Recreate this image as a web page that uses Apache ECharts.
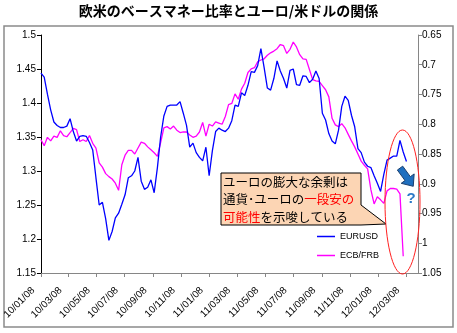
<!DOCTYPE html>
<html>
<head>
<meta charset="utf-8">
<script src="https://cdn.jsdelivr.net/npm/echarts@6/dist/echarts.min.js"></script>
<style>
html,body{margin:0;padding:0;background:#fff;}
#chart{width:457px;height:333px;}
</style>
</head>
<body>
<div id="chart"></div>
<script>
// ---- data ----
const titleText = '欧米のベースマネー比率とユーロ/米ドルの関係';
const startDate = [2010, 1, 8];            // first weekly observation
const endAxisDate = [2012, 4, 3];          // axis end
const tickLabels = ['10/01/08','10/03/08','10/05/08','10/07/08','10/09/08','10/11/08','11/01/08','11/03/08','11/05/08','11/07/08','11/09/08','11/11/08','12/01/08','12/03/08'];
const seriesNames = ['EURUSD', 'ECB/FRB'];
const eurusd = [
 1.444,1.438,1.413,1.390,1.372,1.367,1.364,1.364,1.366,1.377,
 1.358,1.344,1.351,1.352,1.351,1.342,1.331,1.290,1.250,1.254,
 1.230,1.198,1.211,1.231,1.238,1.251,1.265,1.290,1.293,1.300,
 1.320,1.285,1.273,1.276,1.287,1.268,1.305,1.350,1.381,1.395,
 1.397,1.397,1.397,1.402,1.385,1.367,1.335,1.341,1.327,1.320,
 1.315,1.335,1.293,1.330,1.358,1.363,1.360,1.358,1.363,1.374,
 1.397,1.395,1.415,1.411,1.426,1.446,1.445,1.455,1.480,1.452,
 1.422,1.419,1.436,1.462,1.447,1.436,1.422,1.448,1.450,1.427,
 1.426,1.440,1.439,1.430,1.435,1.447,1.436,1.385,1.375,1.355,
 1.344,1.340,1.360,1.395,1.410,1.404,1.382,1.365,1.333,1.327,
 1.313,1.307,1.305,1.293,1.282,1.270,1.295,1.316,1.319,1.322,
 1.322,1.345,1.328,1.314];
const ecbfrb = [
 0.826,0.836,0.822,0.828,0.820,0.822,0.811,0.819,0.821,0.814,
 0.807,0.809,0.829,0.826,0.829,0.819,0.832,0.840,0.865,0.872,
 0.883,0.888,0.892,0.899,0.911,0.868,0.852,0.844,0.844,0.850,
 0.840,0.830,0.832,0.838,0.843,0.848,0.854,0.831,0.806,0.804,
 0.808,0.803,0.810,0.814,0.813,0.813,0.818,0.822,0.820,0.813,
 0.797,0.820,0.800,0.803,0.796,0.798,0.800,0.787,0.767,0.765,
 0.749,0.758,0.741,0.731,0.713,0.707,0.705,0.695,0.692,0.690,
 0.684,0.680,0.677,0.673,0.666,0.668,0.681,0.674,0.662,0.670,
 0.683,0.690,0.691,0.708,0.725,0.727,0.728,0.735,0.742,0.754,
 0.790,0.801,0.804,0.799,0.806,0.817,0.828,0.838,0.850,0.862,
 0.869,0.875,0.910,0.934,0.922,0.927,0.933,0.912,0.908,0.908,
 0.909,0.917,1.022];
const leftAxis = {min: 1.15, max: 1.5, step: 0.05};
const rightAxis = {min: 0.65, max: 1.05, step: 0.05};

// ---- build (x = days since first observation) ----
const DAY = 86400000;
const utc = a => Date.UTC(a[0], a[1]-1, a[2]);
const t0 = utc(startDate);
const dayOf = t => Math.round((t - t0) / DAY);
const xMax = dayOf(utc(endAxisDate));
const tickDays = tickLabels.map(s => { const p = s.split('/').map(Number); return dayOf(utc([2000+p[0], p[1], p[2]])); });
const labelOf = {};
tickDays.forEach((d,i) => labelOf[d] = tickLabels[i]);
const blueData = eurusd.map((v,i) => [i*7, v]);
const pinkData = ecbfrb.map((v,i) => [i*7, v]);

// arrow polygon (annotation)
function arrowPoints(cx, cy, deg){
  const a = deg*Math.PI/180, c = Math.cos(a), s = Math.sin(a);
  const loc = [[-11,-3.3],[2,-3.3],[2,-8],[11.5,0],[2,8],[2,3.3],[-11,3.3]];
  return loc.map(p => [cx + p[0]*c - p[1]*s, cy + p[0]*s + p[1]*c]);
}

const axisFont = 'Liberation Sans, Arial, sans-serif';
const legendBase = {
  orient: 'vertical', left: 317, icon: 'rect', itemWidth: 18, itemHeight: 1.5, padding: 0,
  textStyle: {fontSize: 9, color: '#000', fontFamily: axisFont, padding: [0,0,0,0]}
};
const chart = echarts.init(document.getElementById('chart'), null, {renderer:'canvas'});
chart.setOption({
  animation: false,
  backgroundColor: '#fff',
  title: {
    text: titleText, left: 'center', top: 4, padding: 0,
    textStyle: {fontSize: 14, fontWeight: 'bold', color: '#000', fontFamily: 'Noto Sans CJK JP'}
  },
  grid: {left: 40, right: 39, top: 35, bottom: 60, containLabel: false},
  legend: [
    Object.assign({}, legendBase, {data: [seriesNames[0]], top: 232}),
    Object.assign({}, legendBase, {data: [seriesNames[1]], top: 251})
  ],
  xAxis: {
    type: 'value', min: 0, max: xMax,
    splitLine: {show: false},
    axisLine: {onZero: false, lineStyle: {color: '#868686', width: 1}},
    axisTick: {show: true, length: 4, customValues: tickDays, lineStyle: {color: '#868686'}},
    axisLabel: {
      customValues: tickDays, rotate: 45, margin: 8, padding: [0, 11, 0, 0],
      fontSize: 10, color: '#000', fontFamily: axisFont, hideOverlap: false,
      formatter: v => labelOf[Math.round(v)] || ''
    }
  },
  yAxis: [{
    type: 'value', position: 'left', min: leftAxis.min, max: leftAxis.max, interval: leftAxis.step,
    splitLine: {show: false},
    axisLine: {show: true, lineStyle: {color: '#000', width: 1}},
    axisTick: {show: true, length: 4, lineStyle: {color: '#000'}},
    axisLabel: {margin: 5, fontSize: 10, color: '#000', fontFamily: axisFont}
  }, {
    type: 'value', position: 'right', inverse: true, min: rightAxis.min, max: rightAxis.max, interval: rightAxis.step,
    splitLine: {show: false},
    axisLine: {show: true, lineStyle: {color: '#868686', width: 1}},
    axisTick: {show: true, length: 4, lineStyle: {color: '#868686'}},
    axisLabel: {margin: 4, fontSize: 10, color: '#000', fontFamily: axisFont}
  }],
  series: [{
    name: seriesNames[0], type: 'line', yAxisIndex: 0, data: blueData,
    symbol: 'none', lineStyle: {color: '#0000ff', width: 1.3}, itemStyle: {color: '#0000ff'}, z: 3
  }, {
    name: seriesNames[1], type: 'line', yAxisIndex: 1, data: pinkData,
    symbol: 'none', lineStyle: {color: '#ff00ff', width: 1.3}, itemStyle: {color: '#ff00ff'}, z: 2
  }],
  graphic: [
    {type: 'rect', shape: {x: 4, y: 26, width: 449, height: 301}, style: {fill: 'none', stroke: '#8a8a8a', lineWidth: 1.5}, silent: true, z: 0},
    {type: 'polygon', shape: {points: [[221,173],[361,173],[361,205],[386,224],[361,225],[221,225]]},
      style: {fill: '#FCD5B4', stroke: '#000', lineWidth: 1}, z: 10},
    {type: 'text', x: 223, y: 173, z: 11,
      style: {
        text: 'ユーロの膨大な余剰は\n通貨･ユーロの{r|一段安の}\n{r|可能性}を示唆している',
        fontSize: 12.5, fontFamily: 'Noto Sans CJK JP', fill: '#000', lineHeight: 17.5,
        rich: {r: {fill: '#ff0000', fontSize: 12.5, fontFamily: 'Noto Sans CJK JP', lineHeight: 17.5}}
      }},
    {type: 'ellipse', shape: {cx: 402.5, cy: 202, rx: 17.5, ry: 72}, style: {fill: 'none', stroke: '#ff2020', lineWidth: 1}, z: 10},
    {type: 'polygon', shape: {points: arrowPoints(406.5, 177, 54)}, style: {fill: '#1f6fbf', stroke: '#1a3f6e', lineWidth: 1}, z: 11},
    {type: 'text', x: 411, y: 199, z: 11,
      style: {text: '?', fontSize: 15, fontWeight: 'bold', fontFamily: 'Liberation Sans, Arial', fill: '#2a7ac8', align: 'center', verticalAlign: 'middle'}}
  ]
});
</script>
</body>
</html>
